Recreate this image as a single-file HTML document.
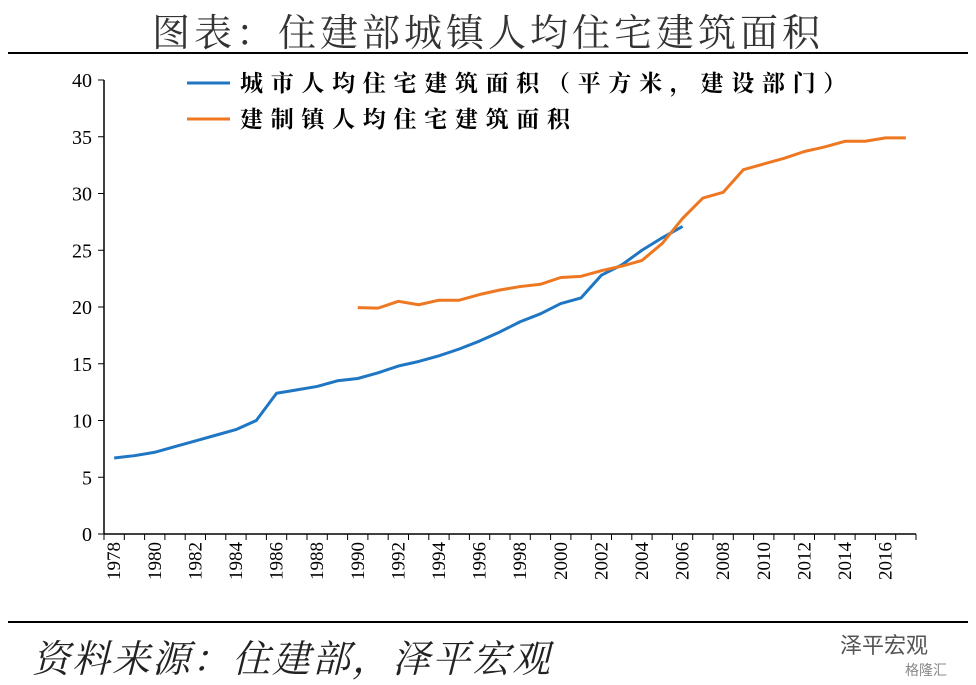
<!DOCTYPE html>
<html><head><meta charset="utf-8">
<style>
body{margin:0;background:#fff;width:976px;height:685px;overflow:hidden;position:relative;font-family:"Liberation Serif","Noto Serif CJK SC",serif;}
.t{position:absolute;white-space:nowrap}
</style></head>
<body>
<div class="t" style="left:0;width:976px;text-align:center;top:2px;font-size:38px;color:#333;letter-spacing:4px;font-family:'Liberation Serif','Noto Serif CJK SC',serif">图表：住建部城镇人均住宅建筑面积</div>
<div style="position:absolute;left:8px;top:52px;width:960px;height:2px;background:#000"></div>
<div style="position:absolute;left:8px;top:621px;width:960px;height:2px;background:#000"></div>
<div class="t" style="left:32px;top:628px;font-size:38px;font-style:italic;color:#222;letter-spacing:2px;font-family:'Liberation Serif','Noto Serif CJK SC',serif">资料来源：住建部，泽平宏观</div>
<div class="t" style="left:840px;top:628px;font-size:22px;color:#555;font-family:'Liberation Sans','Noto Sans CJK SC',sans-serif">泽平宏观</div>
<div class="t" style="left:905px;top:660px;font-size:14px;color:#888;font-family:'Liberation Sans','Noto Sans CJK SC',sans-serif">格隆汇</div>
<svg id="chart" width="976" height="685" style="position:absolute;left:0;top:0"></svg>
<script>
const years=[];for(let y=1978;y<=2017;y++)years.push(y);
const urbanYears=[1978,1979,1980,1981,1982,1983,1984,1985,1986,1987,1988,1989,1990,1991,1992,1993,1994,1995,1996,1997,1998,1999,2000,2001,2002,2003,2004,2005,2006];
const urbanValues=[6.7,6.9,7.2,7.7,8.2,8.7,9.2,10.0,12.4,12.7,13.0,13.5,13.7,14.2,14.8,15.2,15.7,16.3,17.0,17.8,18.7,19.4,20.3,20.8,22.8,23.7,25.0,26.1,27.1];
const townYears=[1990,1991,1992,1993,1994,1995,1996,1997,1998,1999,2000,2001,2002,2003,2004,2005,2006,2007,2008,2009,2010,2011,2012,2013,2014,2015,2016,2017];
const townValues=[19.95,19.9,20.5,20.2,20.6,20.6,21.1,21.5,21.8,22.0,22.6,22.7,23.2,23.6,24.1,25.6,27.8,29.6,30.1,32.1,32.6,33.1,33.7,34.1,34.6,34.6,34.9,34.9];
const yTicks=[0,5,10,15,20,25,30,35,40];
const xLabels=[1978,1980,1982,1984,1986,1988,1990,1992,1994,1996,1998,2000,2002,2004,2006,2008,2010,2012,2014,2016];
const seriesNames=["城市人均住宅建筑面积（平方米，建设部门）","建制镇人均住宅建筑面积"];
const svg=document.getElementById('chart');const NS='http://www.w3.org/2000/svg';
const L=104,R=916,T=80,B=534,step=(R-L)/years.length;
const x=y=>L+step*(y-1978+0.5);const yv=v=>B-(v/40)*(B-T);
function mk(tag,a){const e=document.createElementNS(NS,tag);for(const k in a)e.setAttribute(k,a[k]);svg.appendChild(e);return e;}
let e=mk('line',{x1:L,y1:T,x2:L,y2:B,stroke:'#000','stroke-width':1.5});

e=mk('line',{x1:L,y1:B,x2:R,y2:B,stroke:'#000','stroke-width':1.5});

yTicks.forEach(v=>{const l=mk('line',{x1:L-6,y1:yv(v),x2:L,y2:yv(v),stroke:'#000'});

const t=mk('text',{x:L-12,y:yv(v)+7,'text-anchor':'end','font-size':20,'font-family':'Liberation Serif,serif'});t.textContent=v;
});
for(let i=0;i<=years.length;i++){const l=mk('line',{x1:L+step*i,y1:B,x2:L+step*i,y2:B+6,stroke:'#000'});
}
xLabels.forEach(yr=>{const t=mk('text',{transform:`translate(${x(yr)+6},${B+8}) rotate(-90)`,'text-anchor':'end','font-size':19,'font-family':'Liberation Serif,serif'});t.textContent=yr;
});
function line(ys,vs,c,name){const p=mk('polyline',{points:ys.map((y,i)=>x(y)+','+yv(vs[i])).join(' '),fill:'none',stroke:c,'stroke-width':3,'stroke-linejoin':'round'});
}
line(urbanYears,urbanValues,'#1f77c4','urban-series-line');
line(townYears,townValues,'#ee7722','town-series-line');
[['#1f77c4',83],['#ee7722',119]].forEach((c,i)=>{const l=mk('line',{x1:187,y1:c[1],x2:230,y2:c[1],stroke:c[0],'stroke-width':3});

const t=mk('text',{x:240,y:c[1]+8,'font-size':23,'font-weight':'bold','letter-spacing':7.7,'font-family':'Liberation Serif,Noto Serif CJK SC,serif'});t.textContent=seriesNames[i];
});
</script>
</body></html>
